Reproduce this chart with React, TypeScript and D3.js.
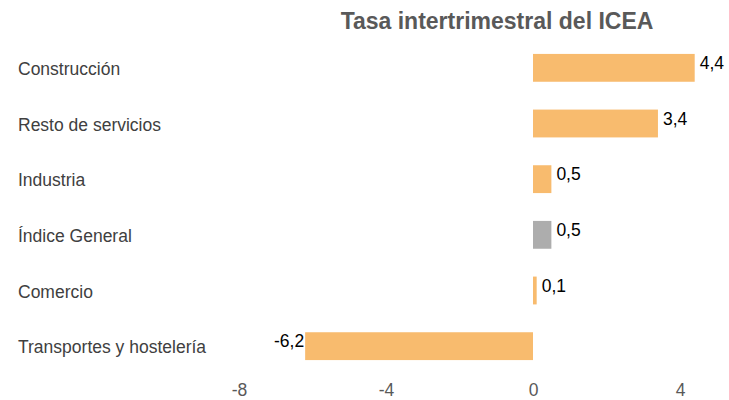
import { useEffect, useRef } from 'react'
import * as d3 from 'd3'

const categories = [
  'Construcción',
  'Resto de servicios',
  'Industria',
  'Índice General',
  'Comercio',
  'Transportes y hostelería',
]
const values = [4.4, 3.4, 0.5, 0.5, 0.1, -6.2]
const highlighted = ['Índice General']
const xTicks = [-8, -4, 0, 4]

const W = 729
const H = 400
const FONT = '"Liberation Sans", Arial, sans-serif'

const fmt = (v: number) => v.toFixed(1).replace('.', ',')

export default function App() {
  const svgRef = useRef<SVGSVGElement | null>(null)

  useEffect(() => {
    if (!svgRef.current) return
    const svg = d3.select(svgRef.current)
    svg.selectAll('*').remove()

    const data = categories.map((c, i) => ({ name: c, value: values[i] }))

    const x = d3.scaleLinear().domain([-8, 4]).range([239, 680])
    const y = d3.scaleBand<string>()
      .domain(categories)
      .range([40, 374])
      .paddingInner(0.5)
      .paddingOuter(0.25)

    svg.append('text')
      .attr('x', 497)
      .attr('y', 29)
      .attr('text-anchor', 'middle')
      .attr('font-family', FONT)
      .attr('font-size', '23px')
      .attr('font-weight', 'bold')
      .attr('fill', '#595959')
      .text('Tasa intertrimestral del ICEA')

    svg.append('g')
      .selectAll('rect')
      .data(data)
      .join('rect')
      .attr('x', d => x(Math.min(0, d.value)))
      .attr('y', d => y(d.name)!)
      .attr('width', d => Math.abs(x(d.value) - x(0)))
      .attr('height', y.bandwidth())
      .attr('fill', d => highlighted.includes(d.name) ? '#ADADAD' : '#F8BB6E')

    svg.append('g')
      .selectAll('text')
      .data(data)
      .join('text')
      .attr('x', d => d.value >= 0 ? x(d.value) + 5 : x(d.value) - 1)
      .attr('y', d => y(d.name)! + y.bandwidth() / 2 + 1)
      .attr('text-anchor', d => d.value >= 0 ? 'start' : 'end')
      .attr('font-family', FONT)
      .attr('font-size', '17.5px')
      .attr('fill', '#000')
      .text(d => fmt(d.value))

    svg.append('g')
      .selectAll('text')
      .data(data)
      .join('text')
      .attr('x', 18)
      .attr('y', d => y(d.name)! + y.bandwidth() / 2)
      .attr('dy', '0.4em')
      .attr('font-family', FONT)
      .attr('font-size', '17.5px')
      .attr('fill', '#404040')
      .text(d => d.name)

    svg.append('g')
      .attr('transform', 'translate(0,378)')
      .call(d3.axisBottom(x).tickValues(xTicks).tickSize(0).tickPadding(0).tickFormat(d => String(d)))
      .call(g => g.select('.domain').remove())
      .call(g => g.selectAll('text')
        .attr('dy', '18')
        .attr('fill', '#595959')
        .attr('font-family', FONT)
        .attr('font-size', '17.5px'))
  }, [])

  return (
    <svg
      ref={svgRef}
      width={W}
      height={H}
      style={{ position: 'absolute', left: 0, top: 0, background: '#fff' }}
    />
  )
}
